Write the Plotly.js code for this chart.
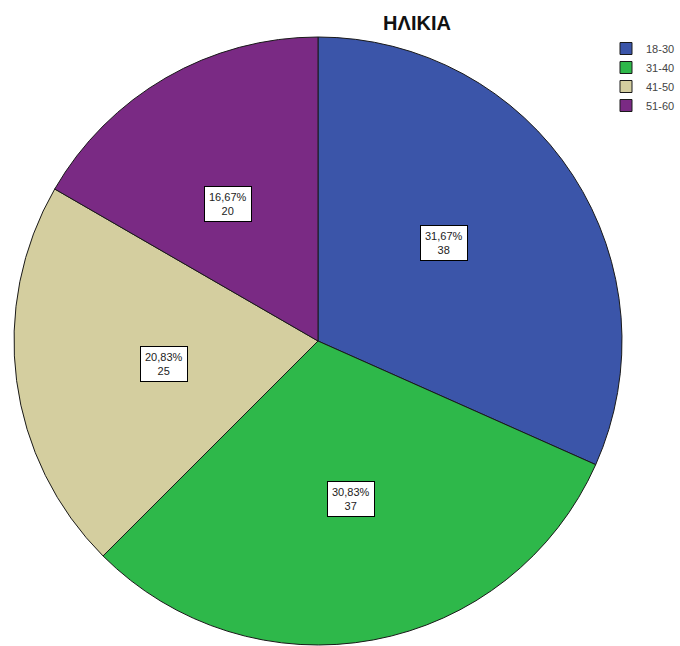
<!DOCTYPE html>
<html>
<head>
<meta charset="utf-8">
<script src="https://cdn.plot.ly/plotly-3.0.1.min.js"></script>
<style>html,body{margin:0;padding:0;background:#fff;}#chart{width:680px;height:646px;}</style>
</head>
<body>
<div id="chart"></div>
<script>
const categories = ['18-30', '31-40', '41-50', '51-60'];
const counts = [38, 37, 25, 20];
const sliceColors = ['#3B55A9', '#2EB84A', '#D4CE9F', '#7A2A84'];
const chartTitle = 'ΗΛΙΚΙΑ';

const W = 680, H = 646;
const dom = {x: [14 / W, 622 / W], y: [(H - 645) / H, (H - 37) / H]};
const total = counts.reduce((a, b) => a + b, 0);

const cx = (dom.x[0] + dom.x[1]) / 2;
const cy = (dom.y[0] + dom.y[1]) / 2;
const R = Math.min((dom.x[1] - dom.x[0]) * W, (dom.y[1] - dom.y[0]) * H) / 2;
const labelFrac = 0.59;

let cum = 0;
const annotations = counts.map((v) => {
  const mid = 2 * Math.PI * (cum + v / 2) / total;
  cum += v;
  const pct = (v / total * 100).toFixed(2).replace('.', ',') + '%';
  return {
    xref: 'paper', yref: 'paper',
    x: cx + labelFrac * R * Math.sin(mid) / W,
    y: cy + labelFrac * R * Math.cos(mid) / H,
    text: pct + '<br>' + v,
    showarrow: false,
    bgcolor: '#ffffff',
    bordercolor: '#000000',
    borderwidth: 1,
    borderpad: 4,
    font: {family: 'Arial, Liberation Sans, sans-serif', size: 11, color: '#222'}
  };
});

const data = [{
  type: 'pie',
  labels: categories,
  values: counts,
  sort: false,
  direction: 'clockwise',
  rotation: 0,
  marker: {colors: sliceColors, line: {color: '#1a1a1a', width: 1}},
  textinfo: 'none',
  hoverinfo: 'none',
  domain: dom
}];

const layout = {
  width: W, height: H,
  margin: {l: 0, r: 0, t: 0, b: 0},
  paper_bgcolor: '#fff',
  title: {
    text: '<b>' + chartTitle + '</b>',
    x: 417 / W, xanchor: 'center',
    y: 1 - 23 / H, yanchor: 'middle',
    font: {family: 'Arial, Liberation Sans, sans-serif', size: 20, color: '#111'}
  },
  showlegend: true,
  legend: {
    x: 1, xanchor: 'right', y: 1 - 34 / H, yanchor: 'top',
    font: {family: 'Arial, Liberation Sans, sans-serif', size: 11, color: '#444'},
    bgcolor: 'rgba(0,0,0,0)',
    itemwidth: 30
  },
  annotations: annotations
};

Plotly.newPlot('chart', data, layout, {displayModeBar: false, staticPlot: true});
</script>
</body>
</html>
